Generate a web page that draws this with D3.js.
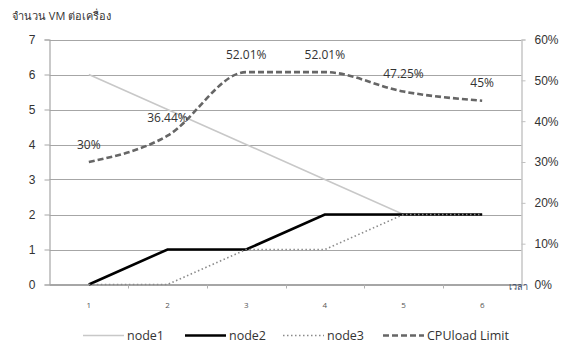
<!DOCTYPE html>
<html>
<head>
<meta charset="utf-8">
<script src="https://cdn.jsdelivr.net/npm/d3@7"></script>
<style>
html,body{margin:0;padding:0;background:#fff;}
svg{display:block;font-family:"Open Sans","Noto Sans","DejaVu Sans",sans-serif;}
</style>
</head>
<body>
<svg id="chart" width="564" height="343"></svg>
<script>
const categories = [1, 2, 3, 4, 5, 6];
const node1 = [6, 5, 4, 3, 2, 2];
const node2 = [0, 1, 1, 2, 2, 2];
const node3 = [0, 0, 1, 1, 2, 2];
const cpuLoad = [0.30, 0.3644, 0.5201, 0.5201, 0.4725, 0.45];
const cpuLabels = ["30%", "36.44%", "52.01%", "52.01%", "47.25%", "45%"];
const leftTicks = [0, 1, 2, 3, 4, 5, 6, 7];
const rightTicks = [0, 0.1, 0.2, 0.3, 0.4, 0.5, 0.6];
const seriesNames = ["node1", "node2", "node3", "CPUload Limit"];

const svg = d3.select("#chart");
const L = 49.5, R = 521.5, T = 39.5, B = 284.5;

const x = d3.scaleBand().domain(categories).range([L, R]).paddingInner(0).paddingOuter(0);
const cx = d => x(d) + x.bandwidth() / 2;
const yL = d3.scaleLinear().domain([0, 7]).range([B, T]);
const yR = d3.scaleLinear().domain([0, 0.6]).range([B, T]);

// gridlines
svg.append("g").selectAll("line").data(leftTicks).join("line")
  .attr("x1", L).attr("x2", R)
  .attr("y1", d => Math.round(yL(d)) + 0.5).attr("y2", d => Math.round(yL(d)) + 0.5)
  .attr("stroke", "#a6a6a6").attr("stroke-width", 1.2);

// left axis
const gL = svg.append("g").attr("transform", `translate(${L},0)`)
  .call(d3.axisLeft(yL).tickValues(leftTicks).tickSize(5).tickPadding(9).tickFormat(d3.format("d")));
gL.select(".domain").attr("stroke", "#a6a6a6").attr("stroke-width", 1.2);
gL.selectAll(".tick line").attr("stroke", "#a6a6a6");
gL.selectAll(".tick text").attr("font-size", 12).attr("fill", "#333");

// right axis
const gR = svg.append("g").attr("transform", `translate(${R},0)`)
  .call(d3.axisRight(yR).tickValues(rightTicks).tickSize(4).tickPadding(9).tickFormat(d3.format(".0%")));
gR.select(".domain").attr("stroke", "#b8b8b8").attr("stroke-width", 1.2);
gR.selectAll(".tick line").attr("stroke", "#c0c0c0");
gR.selectAll(".tick text").attr("font-size", 12).attr("fill", "#333");

// bottom axis
const gB = svg.append("g").attr("transform", `translate(0,${B})`);
gB.append("line").attr("x1", L).attr("x2", R).attr("y1", 0).attr("y2", 0).attr("stroke", "#a6a6a6").attr("stroke-width", 1.2);
gB.selectAll("line.tk").data(categories.slice(1)).join("line").attr("class", "tk")
  .attr("x1", d => Math.round(x(d)) + 0.5).attr("x2", d => Math.round(x(d)) + 0.5)
  .attr("y1", 0).attr("y2", 4).attr("stroke", "#b0b0b0");
gB.selectAll("text").data(categories).join("text")
  .attr("x", d => cx(d)).attr("y", 23).attr("text-anchor", "middle")
  .attr("font-size", 8).attr("fill", "#555").text(d => d);

// lines
const lineL = d3.line().x((d, i) => cx(categories[i])).y(d => yL(d));
svg.append("path").datum(node1).attr("d", lineL).attr("fill", "none")
  .attr("stroke", "#c8c8c8").attr("stroke-width", 1.6);
svg.append("path").datum(node2).attr("d", lineL).attr("fill", "none")
  .attr("stroke", "#000").attr("stroke-width", 2.6);
svg.append("path").datum(node3).attr("d", lineL).attr("fill", "none")
  .attr("stroke", "#8a8a8a").attr("stroke-width", 1.6).attr("stroke-dasharray", "1.5,2.5");
const lineR = d3.line().x((d, i) => cx(categories[i])).y(d => yR(d)).curve(d3.curveMonotoneX);
svg.append("path").datum(cpuLoad).attr("d", lineR).attr("fill", "none")
  .attr("stroke", "#666").attr("stroke-width", 2.6).attr("stroke-dasharray", "6,3");

// data labels
svg.append("g").selectAll("text").data(cpuLoad).join("text")
  .attr("x", (d, i) => cx(categories[i]))
  .attr("y", d => yR(d) - 13.5)
  .attr("text-anchor", "middle").attr("font-size", 12).attr("fill", "#333")
  .text((d, i) => cpuLabels[i]);

// titles
svg.append("text").attr("x", 12).attr("y", 20).attr("font-size", 11).attr("fill", "#333")
  .text("จำนวน VM ต่อเครื่อง");
svg.append("text").attr("x", 509).attr("y", 290).attr("font-size", 9).attr("fill", "#3a4a66")
  .text("เวลา");

// legend
const legendX = [83, 185, 283, 383];
const styles = [
  {stroke: "#c8c8c8", w: 1.6, dash: null},
  {stroke: "#000", w: 2.6, dash: null},
  {stroke: "#8a8a8a", w: 1.6, dash: "1.5,2.5"},
  {stroke: "#666", w: 2.6, dash: "6,3"}
];
const lg = svg.append("g");
seriesNames.forEach((n, i) => {
  const g = lg.append("g").attr("transform", `translate(${legendX[i]},335.5)`);
  g.append("line").attr("x1", 0).attr("x2", 41).attr("y1", 0).attr("y2", 0)
    .attr("stroke", styles[i].stroke).attr("stroke-width", styles[i].w)
    .attr("stroke-dasharray", styles[i].dash);
  g.append("text").attr("x", 44).attr("y", 4.5).attr("font-size", 12.5).attr("fill", "#333").text(n);
});
</script>
</body>
</html>
